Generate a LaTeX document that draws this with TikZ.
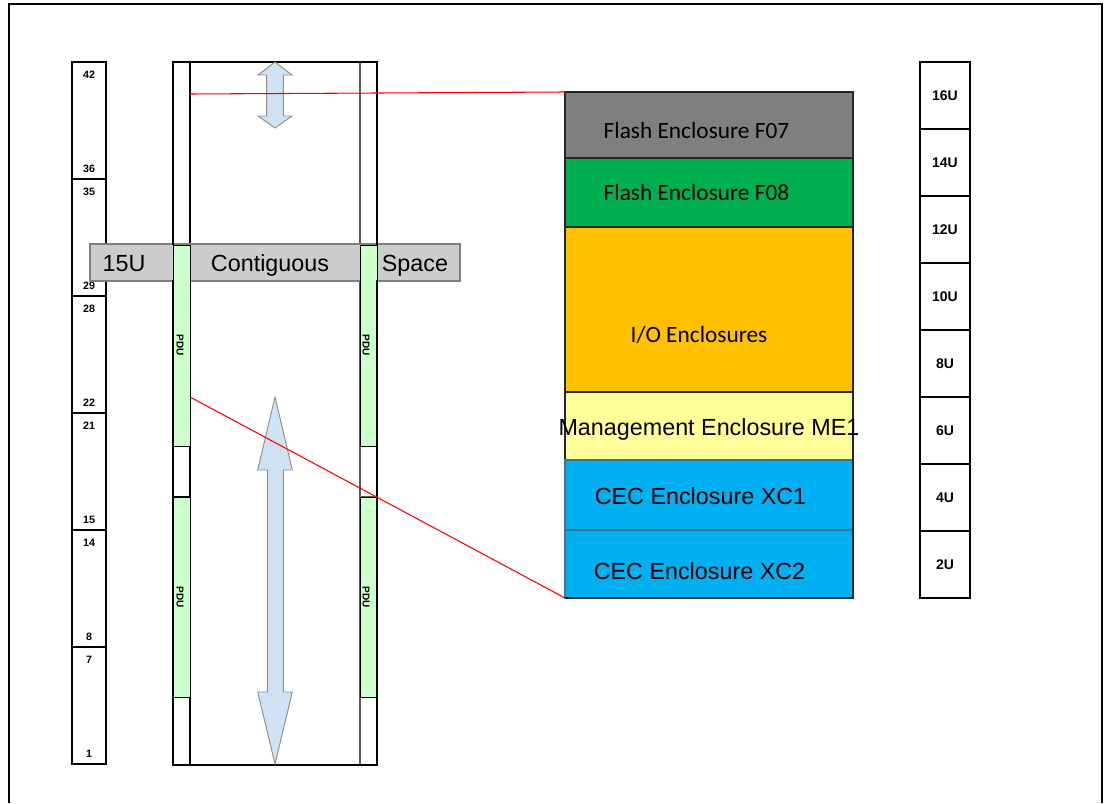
\documentclass[tikz,border=0pt]{standalone}
\usepackage{fontspec}
\setmainfont{Liberation Sans}
\newfontfamily\calibri{Carlito}
\definecolor{bandgray}{HTML}{CCCCCC}
\definecolor{bandedge}{HTML}{7F7F7F}
\definecolor{pdugreen}{HTML}{CCFFCC}
\definecolor{arrowblue}{HTML}{CFE2F3}
\definecolor{arrowedge}{HTML}{8E8E8E}
\definecolor{fgray}{HTML}{7F7F7F}
\definecolor{fgreen}{HTML}{00B050}
\definecolor{ioorange}{HTML}{FFC000}
\definecolor{meyellow}{HTML}{FFFF99}
\definecolor{cecblue}{HTML}{00B0F0}
\definecolor{cecedge}{HTML}{41719C}
\newcommand\pbox[6]{\node[#6, anchor=north west, inner sep=0pt, outer sep=0pt,
  minimum width={(#4-#2)*0.75pt}, minimum height={(#5-#3)*0.75pt}] (#1) at (#2,#3) {};}
\begin{document}
\begin{tikzpicture}[x=0.75pt,y=-0.75pt,
  rul/.style={draw=black, line width=0.9pt, fill=white},
  lnum/.style={font=\fontsize{8}{9}\selectfont\bfseries, inner sep=0pt, anchor=base},
  rnum/.style={font=\fontsize{10.5}{12}\selectfont\bfseries, inner sep=0pt, anchor=base},
  bandtxt/.style={font=\fontsize{17.5}{20}\selectfont, inner sep=0pt, anchor=base},
  stacktxt/.style={font=\fontsize{17.5}{20}\selectfont, inner sep=0pt, anchor=base},
  cal/.style={font=\calibri\fontsize{17.5}{20}\selectfont, inner sep=0pt, anchor=base},
  pdu/.style={draw=black, line width=0.7pt, fill=pdugreen},
  pdutxt/.style={font=\fontsize{7.5}{9}\selectfont\bfseries, rotate=-90, inner sep=0pt},
  encl/.style={draw=black!85, line width=0.8pt},
  bigarrow/.style={draw=arrowedge, line width=0.7pt, fill=arrowblue},
  redline/.style={draw=red, line width=0.8pt},
  rack/.style={line width=2.2pt, line cap=rect}]
\useasboundingbox (0,0) rectangle (1105,803);
% outer frame
\draw[line width=1.6pt] (9,803) -- (9,4) -- (1102,4) -- (1102,803);

% left ruler
\foreach \k/\a/\b in {0/42/36,1/35/29,2/28/22,3/21/15,4/14/8,5/7/1} {
  \pgfmathsetmacro\yt{62+117*\k}
  \pgfmathsetmacro\yb{\yt+117}
  \pbox{L\k}{72}{\yt}{106}{\yb}{rul}
  \node[lnum] (La\k) at (89,\yt+16) {\a};
  \node[lnum] (Lb\k) at (89,\yb-7) {\b};
}

% rack interior lines
\draw[line width=0.8pt] (190,62) -- (190,765);
\draw[line width=0.8pt, black!65] (360,62) -- (360,765);
\draw[line width=0.8pt] (173,697) -- (190,697) (173,446) -- (190,446) (173,497) -- (190,497);
\draw[line width=0.8pt, black!65] (360,697) -- (377,697) (360,446) -- (377,446) (360,497) -- (377,497);

% contiguous space band
\pbox{band}{90}{244}{460}{281}{draw=bandedge, line width=0.8pt, fill=bandgray}
\node[bandtxt] (t15u) at (124,271) {15U};
\node[bandtxt] (tcont) at (270,271) {Contiguous};
\node[bandtxt] (tspace) at (415,271) {Space};

% PDUs
\pbox{pduL1}{173}{245}{190}{446}{pdu}
\pbox{pduL2}{173}{497}{190}{697}{pdu}
\pbox{pduR1}{360}{245}{377}{446}{pdu}
\pbox{pduR2}{360}{497}{377}{697}{pdu}
\node[pdutxt] (pl1) at (180,345) {PDU};
\node[pdutxt] (pl2) at (180,597) {PDU};
\node[pdutxt] (pr1) at (366,345) {PDU};
\node[pdutxt] (pr2) at (366,597) {PDU};

% rack outer lines
\draw[rack] (173,244) -- (173,62) -- (377,62) -- (377,244);
\draw[rack] (173,281) -- (173,765) -- (377,765) -- (377,281);

% arrows
\draw[bigarrow] (275,62) -- (292,75) -- (283.3,75) -- (283.3,116) -- (292,116) -- (275,128)
  -- (258,116) -- (266.7,116) -- (266.7,75) -- (258,75) -- cycle;
\draw[bigarrow] (275,397) -- (292.3,470) -- (283.3,470) -- (283.3,692) -- (292.3,692) -- (275,764)
  -- (257.7,692) -- (267.3,692) -- (267.3,470) -- (257.7,470) -- cycle;

% enclosure stack
\pbox{F07}{565}{92}{853}{158}{encl, fill=fgray}
\pbox{F08}{565}{158}{853}{227}{encl, fill=fgreen}
\pbox{IO}{565}{227}{853}{392}{encl, fill=ioorange}
\pbox{ME1}{565}{392}{853}{460}{encl, fill=meyellow}
\pbox{XC1}{565}{460}{853}{530}{draw=cecedge, line width=0.8pt, fill=cecblue}
\pbox{XC2}{565}{530}{853}{598}{draw=cecedge, line width=0.8pt, fill=cecblue}
\draw[line width=0.8pt, black!85] (XC2.south west) -- (XC2.south east) -- (ME1.north east);
\node[cal] (tF07) at (696.5,138.5) {Flash Enclosure F07};
\node[cal] (tF08) at (696.5,200.5) {Flash Enclosure F08};
\node[cal] (tIO) at (699,342.5) {I/O Enclosures};
\node[stacktxt] (tME1) at (709,435.5) {Management Enclosure ME1};
\node[stacktxt] (tXC1) at (700.5,504.5) {CEC Enclosure XC1};
\node[stacktxt] (tXC2) at (699.5,579.5) {CEC Enclosure XC2};

% red leader lines
\coordinate (r1) at (190,94);
\coordinate (r2) at (190,397);
\draw[redline] (r1) -- (F07.north west);
\draw[redline] (r2) -- (XC2.south west);

% right ruler
\foreach \k/\t in {0/16U,1/14U,2/12U,3/10U,4/8U,5/6U,6/4U,7/2U} {
  \pgfmathsetmacro\yt{62+67*\k}
  \pgfmathsetmacro\yb{\yt+67}
  \pbox{R\k}{920}{\yt}{970}{\yb}{rul}
  \node[rnum] (Rt\k) at (945,\yt+38.5) {\t};
}
\end{tikzpicture}
\end{document}
